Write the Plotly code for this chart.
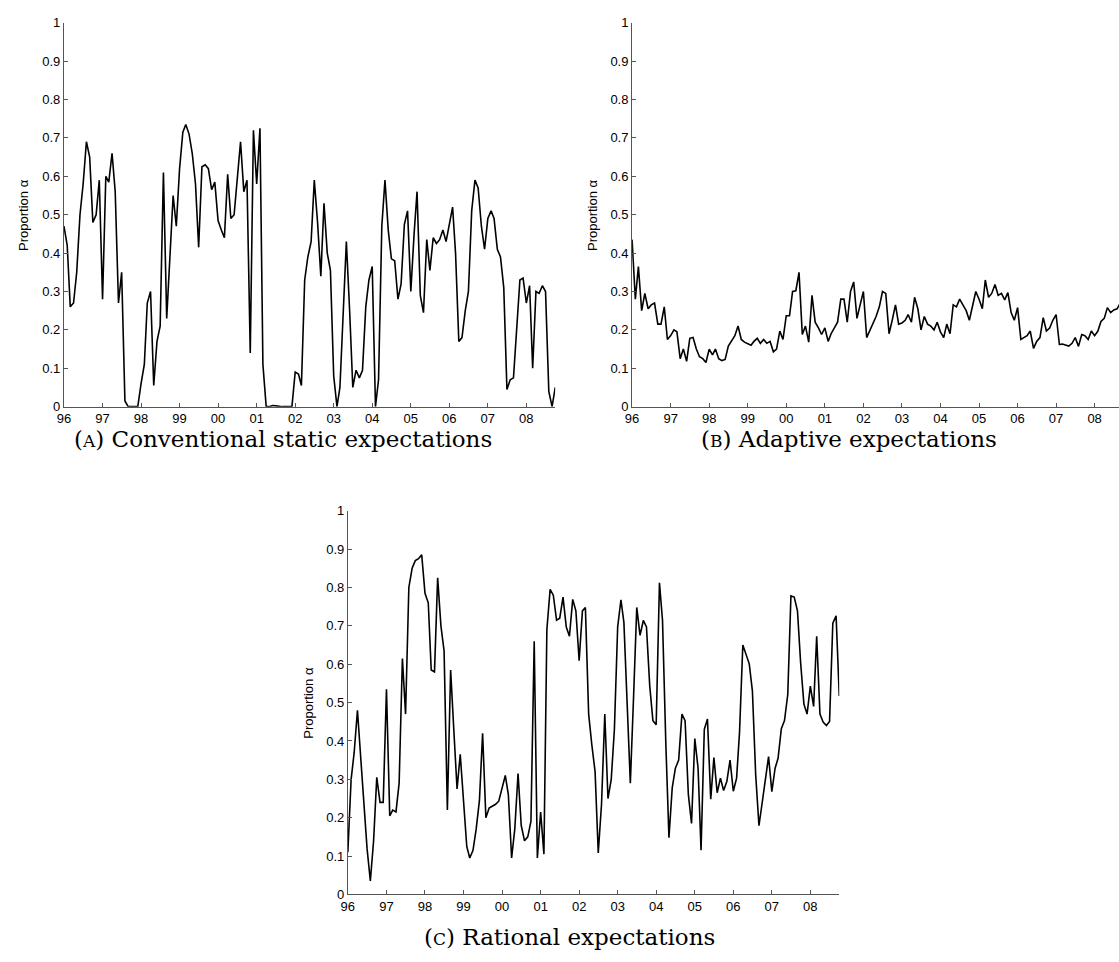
import pandas as pd
import plotly.graph_objects as go

# ---- data (monthly, Jan 1996 - Oct 2008) ----
months = pd.date_range("1996-01-01", periods=154, freq="MS")

static_exp = [
    0.47, 0.42, 0.26, 0.27, 0.35, 0.50, 0.58, 0.69, 0.65, 0.48,
    0.50, 0.59, 0.28, 0.60, 0.585, 0.66, 0.56, 0.27, 0.35, 0.015,
    0.0, 0.0, 0.0, 0.0, 0.06, 0.11, 0.27, 0.30, 0.055, 0.17,
    0.21, 0.61, 0.23, 0.40, 0.55, 0.47, 0.62, 0.715, 0.735, 0.71,
    0.66, 0.58, 0.415, 0.625, 0.63, 0.62, 0.565, 0.585, 0.485, 0.46,
    0.44, 0.605, 0.49, 0.50, 0.60, 0.69, 0.56, 0.59, 0.14, 0.72,
    0.58, 0.725, 0.11, 0.0, 0.0, 0.003, 0.002, 0.0, 0.0, 0.0,
    0.0, 0.0, 0.09, 0.085, 0.055, 0.33, 0.39, 0.43, 0.59, 0.48,
    0.34, 0.53, 0.40, 0.355, 0.08, 0.0, 0.05, 0.25, 0.43, 0.25,
    0.05, 0.095, 0.075, 0.095, 0.26, 0.33, 0.365, 0.0, 0.07, 0.47,
    0.59, 0.46, 0.385, 0.38, 0.28, 0.32, 0.475, 0.51, 0.30, 0.45,
    0.56, 0.29, 0.245, 0.435, 0.355, 0.44, 0.425, 0.435, 0.46, 0.43,
    0.475, 0.52, 0.40, 0.17, 0.18, 0.25, 0.30, 0.51, 0.59, 0.57,
    0.47, 0.41, 0.49, 0.51, 0.49, 0.41, 0.39, 0.31, 0.045, 0.07,
    0.075, 0.20, 0.33, 0.335, 0.27, 0.315, 0.10, 0.30, 0.295, 0.315,
    0.30, 0.04, 0.0, 0.05,
]

adaptive_exp = [
    0.435, 0.28, 0.365, 0.25, 0.295, 0.255, 0.265, 0.27, 0.215, 0.215,
    0.26, 0.175, 0.185, 0.20, 0.195, 0.125, 0.15, 0.118, 0.178, 0.18,
    0.15, 0.13, 0.125, 0.115, 0.15, 0.135, 0.15, 0.125, 0.12, 0.123,
    0.158, 0.17, 0.185, 0.21, 0.175, 0.168, 0.165, 0.16, 0.17, 0.178,
    0.165, 0.175, 0.165, 0.17, 0.143, 0.15, 0.197, 0.175, 0.237, 0.237,
    0.30, 0.302, 0.35, 0.188, 0.21, 0.168, 0.29, 0.22, 0.205, 0.188,
    0.205, 0.17, 0.19, 0.205, 0.22, 0.28, 0.28, 0.22, 0.30, 0.325,
    0.23, 0.265, 0.30, 0.18, 0.197, 0.213, 0.235, 0.26, 0.30, 0.295,
    0.19, 0.225, 0.265, 0.215, 0.218, 0.225, 0.24, 0.22, 0.285, 0.255,
    0.20, 0.235, 0.215, 0.21, 0.20, 0.22, 0.195, 0.18, 0.215, 0.19,
    0.265, 0.26, 0.28, 0.265, 0.25, 0.225, 0.26, 0.30, 0.28, 0.255,
    0.33, 0.285, 0.295, 0.318, 0.29, 0.295, 0.278, 0.297, 0.245, 0.225,
    0.258, 0.175, 0.18, 0.185, 0.197, 0.152, 0.17, 0.18, 0.232, 0.197,
    0.205, 0.225, 0.24, 0.162, 0.163, 0.16, 0.158, 0.165, 0.18, 0.157,
    0.188, 0.185, 0.175, 0.197, 0.185, 0.197, 0.222, 0.23, 0.258, 0.245,
    0.252, 0.255, 0.27, 0.275,
]

rational_exp = [
    0.11, 0.30, 0.37, 0.48, 0.36, 0.24, 0.12, 0.035, 0.14, 0.305,
    0.24, 0.24, 0.535, 0.205, 0.22, 0.215, 0.29, 0.615, 0.47, 0.80,
    0.85, 0.87, 0.875, 0.885, 0.785, 0.76, 0.585, 0.58, 0.825, 0.70,
    0.635, 0.22, 0.585, 0.43, 0.275, 0.365, 0.23, 0.125, 0.095, 0.115,
    0.17, 0.245, 0.42, 0.20, 0.225, 0.23, 0.235, 0.243, 0.28, 0.31,
    0.26, 0.095, 0.17, 0.315, 0.18, 0.14, 0.15, 0.19, 0.66, 0.095,
    0.215, 0.105, 0.69, 0.795, 0.78, 0.715, 0.72, 0.775, 0.697, 0.673,
    0.769, 0.739, 0.609, 0.739, 0.748, 0.47, 0.39, 0.32, 0.108, 0.235,
    0.47, 0.25, 0.30, 0.43, 0.697, 0.768, 0.709, 0.517, 0.29, 0.517,
    0.748, 0.675, 0.714, 0.697, 0.543, 0.453, 0.442, 0.812, 0.714, 0.397,
    0.148, 0.278, 0.329, 0.35, 0.47, 0.453, 0.26, 0.185, 0.406, 0.329,
    0.115, 0.43, 0.457, 0.248, 0.357, 0.265, 0.303, 0.271, 0.295, 0.35,
    0.269, 0.303, 0.423, 0.65, 0.628, 0.601, 0.53, 0.312, 0.179, 0.239,
    0.312, 0.359, 0.268, 0.329, 0.355, 0.432, 0.453, 0.521, 0.778, 0.775,
    0.739, 0.603, 0.496, 0.47, 0.543, 0.49, 0.673, 0.47, 0.449, 0.44,
    0.451, 0.707, 0.726, 0.517,
]

year_ticks = pd.date_range("1996-01-01", "2008-01-01", freq="YS")
year_labels = ["96", "97", "98", "99", "00", "01", "02", "03", "04", "05", "06", "07", "08"]
y_ticks = [0, 0.1, 0.2, 0.3, 0.4, 0.5, 0.6, 0.7, 0.8, 0.9, 1]
y_labels = ["0", "0.1", "0.2", "0.3", "0.4", "0.5", "0.6", "0.7", "0.8", "0.9", "1"]

captions = [
    "(<span style='font-size:17px'>A</span>) Conventional static expectations",
    "(<span style='font-size:17px'>B</span>) Adaptive expectations",
    "(<span style='font-size:17px'>C</span>) Rational expectations",
]

W, H = 1119, 962
fig = go.Figure()

tick_font = dict(family="Liberation Sans, Arial, sans-serif", size=13, color="black")
axis_color = "#555555"

panels = [
    # (series, x_left_px, x_right_px, y_top_px, y_bottom_px, range_end)
    (static_exp, 57.3, 551.7, 16, 406, "2008-10-01"),
    (adaptive_exp, 629, 1119, 16, 406, "2008-08-19"),
    (rational_exp, 343, 837.5, 511.7, 901.5, "2008-10-01"),
]

for k, (series, xl, xr, yt, yb, rend) in enumerate(panels):
    suffix = "" if k == 0 else str(k + 1)
    fig.add_trace(go.Scatter(
        x=months, y=series, mode="lines",
        line=dict(color="black", width=1.6),
        xaxis="x" + suffix, yaxis="y" + suffix, showlegend=False,
    ))
    xa = dict(
        domain=[xl / W, xr / W], anchor="y" + suffix, type="date",
        range=["1996-01-01", rend],
        tickvals=year_ticks, ticktext=year_labels,
        ticks="inside", ticklen=4, tickcolor=axis_color, tickwidth=1,
        showline=True, linecolor=axis_color, linewidth=1,
        showgrid=False, zeroline=False, tickfont=tick_font, ticklabelstandoff=0,
    )
    ya = dict(
        domain=[1 - yb / H, 1 - yt / H], anchor="x" + suffix,
        range=[0, 1], tickvals=y_ticks, ticktext=y_labels,
        ticks="inside", ticklen=4, tickcolor=axis_color, tickwidth=1,
        showline=True, linecolor=axis_color, linewidth=1,
        showgrid=False, zeroline=False, tickfont=tick_font,
    )
    fig.update_layout(**{"xaxis" + suffix: xa, "yaxis" + suffix: ya})
    fig.add_annotation(
        text="Proportion α", textangle=-90, showarrow=False,
        xref="paper", yref="paper", x=(xl - 40) / W, y=1 - (yt + yb) / 2 / H,
        xanchor="center", yanchor="middle",
        font=dict(family="Liberation Sans, Arial, sans-serif", size=13, color="black"),
    )

cap_pos = [(278, 439), (847, 439), (566, 945)]
for text, (cx, cy) in zip(captions, cap_pos):
    fig.add_annotation(
        text=text, showarrow=False, xref="paper", yref="paper",
        x=cx / W, y=1 - cy / H, xanchor="center", yanchor="middle",
        font=dict(family="DejaVu Serif, serif", size=23, color="black"),
    )

fig.update_layout(
    width=W, height=H, margin=dict(l=0, r=0, t=0, b=0),
    paper_bgcolor="white", plot_bgcolor="white",
)

fig.write_html("out.html")
